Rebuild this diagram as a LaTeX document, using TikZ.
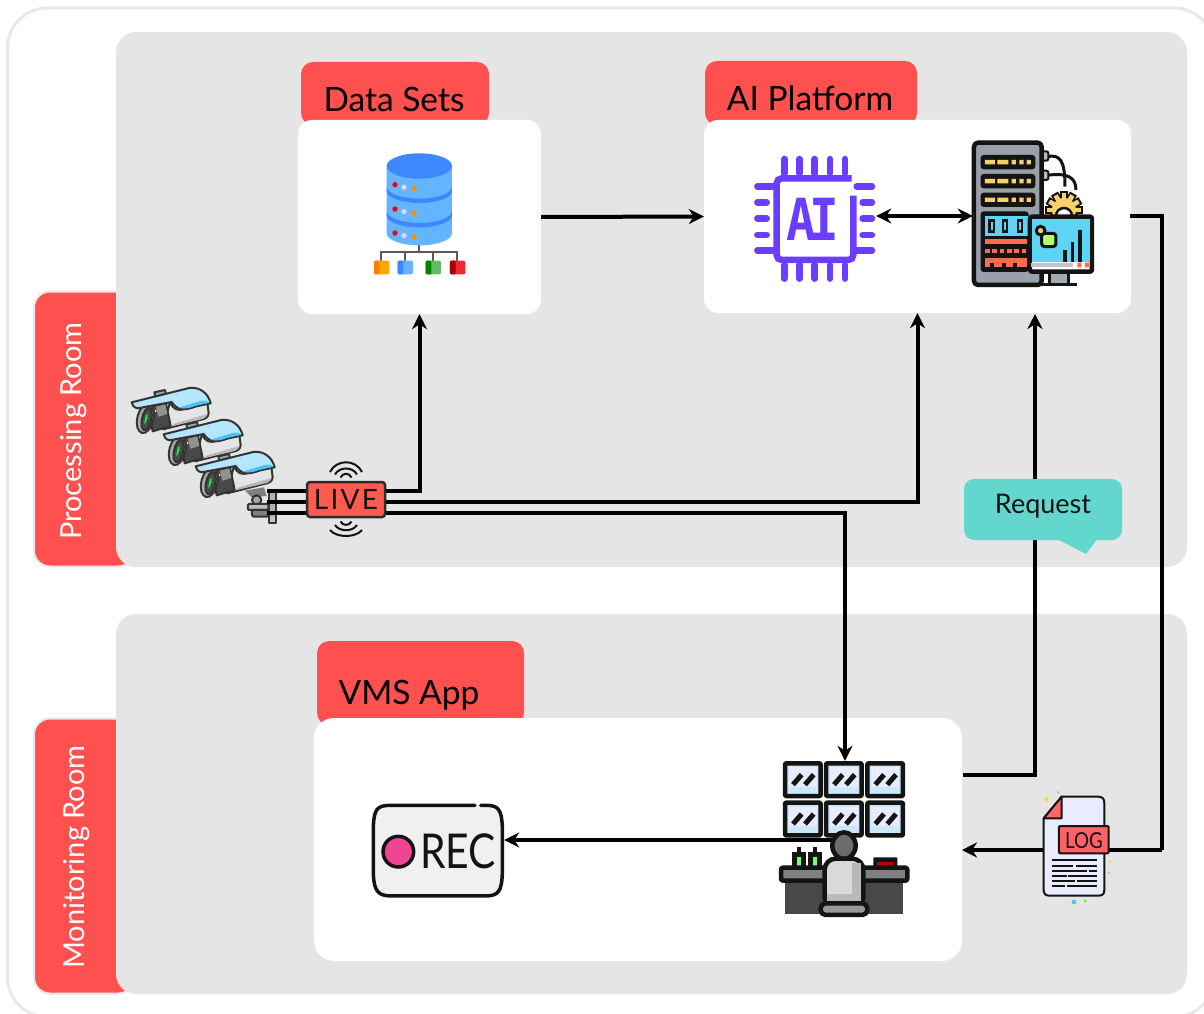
\documentclass[tikz,border=0pt]{standalone}
\usepackage{fontspec}
\setmainfont{Lato}
\newfontfamily\narrowfont[FakeStretch=0.85]{Lato}
\newfontfamily\aifont[FakeStretch=0.85]{DejaVu Sans Mono}
\usetikzlibrary{arrows.meta}
\definecolor{panelgray}{HTML}{E5E5E5}
\definecolor{tabred}{HTML}{FF5050}
\definecolor{framegray}{HTML}{E8E8E8}
\definecolor{teal}{HTML}{63D7CE}
\definecolor{aipurple}{HTML}{6A3DFF}
\definecolor{dbl}{HTML}{64B5FF}
\definecolor{dbd}{HTML}{3D87FF}
\definecolor{ink}{HTML}{141414}
\definecolor{steel}{HTML}{9AA0AA}
\definecolor{sky}{HTML}{5FD3F5}
\definecolor{glass}{HTML}{CBE8F9}
\definecolor{amber}{HTML}{F7CF6B}
\definecolor{ember}{HTML}{FB6B50}
\definecolor{livered}{HTML}{FF5A50}
\definecolor{camdark}{HTML}{4A4A4A}
\definecolor{hoodl}{HTML}{B5E6FF}
\definecolor{hoodd}{HTML}{4FC3F7}
\newcommand{\fs}[1]{\fontsize{#1}{#1}\selectfont}
\tikzset{
  conn/.style={line width=4pt,draw=black,-{Stealth[length=15pt,width=15pt]}},
  plainconn/.style={line width=4pt,draw=black},
  twoway/.style={line width=4pt,draw=black,{Stealth[length=15pt,width=15pt]}-{Stealth[length=15pt,width=15pt]}},
  panel/.style={fill=panelgray,rounded corners=20pt,inner sep=0pt,draw=none},
  wbox/.style={fill=white,rounded corners=14pt,inner sep=0pt,draw=none},
  tabbox/.style={fill=tabred,rounded corners=12pt,inner sep=0pt,draw=none},
  sidetab/.style={fill=tabred,draw=framegray,line width=2pt,rounded corners=16pt,inner sep=0pt},
  tabtext/.style={text=black,inner sep=0pt,font=\fs{33.5}},
  sidetext/.style={text=white,inner sep=0pt,rotate=90,font=\fs{29}},
  anchorbox/.style={inner sep=0pt,draw=none,fill=none},
  pin/.style={draw=aipurple,line width=6.5pt,line cap=round},
  icon/.style={line width=2pt,draw=camdark!70!black,line join=round},
  heavy/.style={line width=4.5pt,draw=ink,line join=round},
}
\newcommand{\camera}[2]{%
\begin{scope}[shift={(#1,#2)},scale=0.3333]
  \draw[icon,fill=gray!70] (103,67) -- (135,60) -- (138,72) -- (106,80) -- cycle;
  \draw[icon,fill=gray!20!white] (150,95) .. controls (160,122) and (175,122) .. (195,117) -- (262,98) -- (266,130) .. controls (265,142) and (255,148) .. (240,150) -- (130,178) -- cycle;
  \fill[gray!55] (165,160) -- (262,132) .. controls (260,142) and (252,147) .. (240,149) -- (150,170) -- cycle;
  \draw[icon,fill=camdark] (84,113) -- (138,100) -- (152,168) -- (98,184) -- cycle;
  \fill[camdark!60!white] (108,110) -- (136,103) -- (142,132) -- (115,140) -- cycle;
  \fill[white] (107,123) circle (3);
  \draw[icon,fill=gray!65,rotate around={-13:(76,146)}] (76,146) ellipse [x radius=24,y radius=44];
  \draw[icon,fill=camdark,rotate around={-13:(76,146)}] (80,146) ellipse [x radius=14,y radius=34];
  \fill[green!70!cyan,rotate around={-13:(76,146)}] (78,146) ellipse [x radius=3,y radius=16];
  \draw[icon,fill=hoodl] (35,97) -- (208,54) .. controls (240,50) and (265,70) .. (272,100) -- (225,110) .. controls (195,122) and (172,122) .. (155,96) -- (52,115) .. controls (42,112) and (35,105) .. (35,97) -- cycle;
  \fill[hoodd] (175,113) -- (245,92) .. controls (255,90) and (262,92) .. (268,98) -- (225,108) .. controls (205,116) and (190,118) .. (175,113) -- cycle;
\end{scope}}
\begin{document}
\begin{tikzpicture}[x=1pt,y=-1pt]
\useasboundingbox (0,0) rectangle (1204,1014);
\fill[white] (0,0) rectangle (1204,1014);
\draw[framegray,line width=3pt,rounded corners=40pt] (7.5,8) rectangle (1214,1017);
% side tabs
\node[sidetab,minimum width=100pt,minimum height=275pt] (proctab) at (84,429) {};
\node[sidetab,minimum width=100pt,minimum height=275pt] (montab) at (84,856) {};
% panels
\node[panel,minimum width=1071pt,minimum height=535pt] (procroom) at (651.5,299.5) {};
\node[panel,minimum width=1071pt,minimum height=380pt] (monroom) at (651.5,804) {};
\node[sidetext] at (74,431) {Processing Room};
\node[sidetext] at (77,857) {Monitoring Room};
% header tabs
\node[tabbox,minimum width=188pt,minimum height=63pt] (dstab) at (395,93.5) {};
\node[tabbox,minimum width=212pt,minimum height=64pt] (aitab) at (811,93) {};
\node[tabbox,minimum width=207pt,minimum height=84pt] (vmstab) at (420.5,683) {};
\node[tabtext] at (394,99) {Data Sets};
\node[tabtext] at (810,98) {AI Platform};
\node[tabtext] at (409,695) {VMS App};
% white boxes
\node[wbox,minimum width=243pt,minimum height=194pt] (datasets) at (419.5,217) {};
\node[wbox,minimum width=427pt,minimum height=193pt] (aibox) at (917.5,216.5) {};
\node[wbox,rounded corners=20pt,minimum width=648pt,minimum height=243pt] (vms) at (638,839.5) {};
% anchor nodes
\node[anchorbox,minimum width=122pt,minimum height=124pt] (chip) at (815,219) {};
\node[anchorbox,minimum width=120pt,minimum height=144pt] (server) at (1033,214) {};
\node[anchorbox,minimum width=126pt,minimum height=154pt] (monitor) at (845,838) {};
\node[anchorbox,minimum width=132pt,minimum height=92pt] (rec) at (438,851) {};
\node[anchorbox,minimum width=62pt,minimum height=100pt] (logdoc) at (1074,846) {};
\coordinate (c1) at (267,491);
\coordinate (c2) at (267,502);
\coordinate (c3) at (267,513);
\coordinate (vmsout) at (963,775);
\coordinate (aiin) at (1035,314);
\coordinate (aiout) at (1130,216);
\coordinate (busright) at (1162,216);
\coordinate (busdown) at (1162,850);
\coordinate (vmsin) at (962,850);
\coordinate (desk) at (845,840);
% database icon
\begin{scope}[shift={(360,140)},scale=0.3333]
  \draw[draw=ink!70!white,line width=2pt] (178,315) -- (178,335) (64,362) -- (64,335) -- (292,335) -- (292,362) (135,335) -- (135,362) (220,335) -- (220,362);
  \fill[dbl] (80,78) -- (80,280) arc [start angle=180,end angle=0,x radius=98,y radius=36] -- (276,78) -- cycle;
  \fill[dbd] (80,140) arc [start angle=180,end angle=0,x radius=98,y radius=36] -- (276,153) arc [start angle=0,end angle=180,x radius=98,y radius=36] -- cycle;
  \fill[dbd] (80,213) arc [start angle=180,end angle=0,x radius=98,y radius=36] -- (276,226) arc [start angle=0,end angle=180,x radius=98,y radius=36] -- cycle;
  \fill[dbd] (178,78) ellipse [x radius=98,y radius=38];
  \foreach \yy in {134,207,279}{
    \fill[red!75!purple] (105,\yy) circle (8);
    \fill[blue!15!white] (132,\yy+8) circle (8);
    \fill[orange!90!yellow] (162,\yy+12) circle (8);
  }
  \fill[orange!70!yellow,rounded corners=2pt] (42,362) rectangle (88,403);
  \fill[orange,rounded corners=1pt] (42,362) rectangle (58,403);
  \fill[dbl,rounded corners=2pt] (113,362) rectangle (159,403);
  \fill[dbd,rounded corners=1pt] (113,362) rectangle (130,403);
  \fill[green!55!black!60!white,rounded corners=2pt] (197,362) rectangle (243,403);
  \fill[green!50!black,rounded corners=1pt] (197,362) rectangle (214,403);
  \fill[red!80!purple!85!white,rounded corners=2pt] (270,362) rectangle (316,403);
  \fill[red!65!black,rounded corners=1pt] (270,362) rectangle (287,403);
\end{scope}
% AI chip
\begin{scope}[shift={(740,130)},scale=0.3333]
  \foreach \xx in {133,178,224,270,315}{
    \draw[pin] (\xx,87) -- (\xx,130);
    \draw[pin] (\xx,405) -- (\xx,446);
  }
  \foreach \yy in {217,265,315}{
    \draw[pin] (52,\yy) -- (80,\yy);
    \draw[pin] (368,\yy) -- (396,\yy);
  }
  \draw[pin] (52,170) -- (100,170);
  \draw[pin] (52,362) -- (100,362);
  \draw[pin] (350,170) -- (396,170);
  \draw[pin] (350,362) -- (396,362);
  \draw[draw=aipurple,line width=6.5pt,rounded corners=5pt] (340,197) -- (340,390) -- (110,390) -- (110,145) -- (335,145);
  \node[text=aipurple,inner sep=0pt,font=\aifont\fs{58}\bfseries] at (218,268) {A\kern-7pt I};
\end{scope}
% server icon
\begin{scope}[shift={(740,130)},scale=0.3333]
  \draw[ink,line width=3pt] (920,80) .. controls (960,72) and (975,90) .. (975,170);
  \draw[ink,line width=3pt] (920,136) .. controls (980,128) and (1008,140) .. (1008,180);
  \draw[ink,line width=2pt,fill=steel!70!white,rounded corners=2pt] (905,64) rectangle (925,92) (905,122) rectangle (925,150);
  \draw[heavy,fill=steel,rounded corners=4pt] (702,38) rectangle (905,465);
  \foreach \yy in {75,132,188}{
    \fill[ink,rounded corners=3pt] (722,\yy) rectangle (886,\yy+43);
    \fill[amber] (735,\yy+15) rectangle (765,\yy+28) (772,\yy+15) rectangle (805,\yy+28) (815,\yy+15) rectangle (828,\yy+28) (838,\yy+15) rectangle (851,\yy+28) (860,\yy+15) rectangle (873,\yy+28);
  }
  \fill[ink,rounded corners=3pt] (722,244) rectangle (866,426);
  \fill[sky] (735,258) rectangle (866,318);
  \foreach \xx in {745,785,830}{\fill[ink] (\xx,268) rectangle (\xx+20,308); \fill[sky] (\xx+7,276) rectangle (\xx+13,300);}
  \fill[ember] (735,328) rectangle (862,342);
  \foreach \xx in {735,757,779,801,823,845}{\fill[ember] (\xx,356) rectangle (\xx+14,370);}
  \fill[ember] (735,385) rectangle (862,412);
  \foreach \xx in {750,785,820}{\fill[ink] (\xx,398) rectangle (\xx+12,412);}
  % gear
  \foreach \aa in {0,30,...,180}{\draw[ink,line width=2pt,fill=amber,rotate around={\aa:(972,240)}] (1005,231) rectangle (1026,249);}
  \draw[ink,line width=2.5pt,fill=amber] (972,240) circle (40);
  \foreach \aa in {0,30,...,180}{\fill[amber,rotate around={\aa:(972,240)}] (1000,233) rectangle (1022,247);}
  \draw[ink,line width=2.5pt,fill=white] (972,258) circle (24);
  % monitor
  \fill[steel!90!white] (930,425) rectangle (985,460);
  \draw[ink,line width=3pt] (930,425) -- (930,462) (985,425) -- (985,462);
  \draw[ink,line width=3.5pt] (897,463) -- (1012,463);
  \draw[heavy,fill=white,rounded corners=2pt] (870,260) rectangle (1056,425);
  \fill[sky] (877,267) rectangle (1049,395);
  \fill[steel!60!white] (874,398) rectangle (1000,412);
  \fill[ember] (1012,398) rectangle (1024,412) (1035,398) rectangle (1047,412);
  \draw[ink,line width=3pt,fill=green!50!yellow!60!white,rounded corners=3pt] (905,310) rectangle (948,350);
  \draw[ink,line width=3pt,fill=amber] (902,302) circle (13);
  \foreach \xx/\yy in {970/360,992/335,1015/300}{\fill[ink] (\xx,\yy) rectangle (\xx+10,397);}
\end{scope}
% connectors behind camera/LIVE
\draw[conn] (c1) -| (datasets.south);
\draw[conn] (c2) -| (aibox.south);
\draw[conn] (c3) -| (monitor.north);
\draw[conn] (datasets.east) -- (aibox.west);
\draw[twoway] (chip.east |- 0,216) -- (server.west |- 0,216);
\draw[conn] (vmsout) -| (aiin);
\draw[plainconn] (aiout) -- (busright) -- (busdown);
\draw[conn] (busdown) -- (vmsin);
% cameras
\camera{120}{370}
\camera{152}{402}
\camera{184}{434}
% mount
\begin{scope}[shift={(120,370)},scale=0.3333]
  \fill[gray] (375,362) -- (432,352) -- (440,378) -- (395,382) -- cycle;
  \draw[icon,fill=gray!70] (410,390) circle (14);
  \draw[icon,fill=steel!70!white,rounded corners=1pt] (384,402) rectangle (445,420);
  \draw[icon,fill=gray,rounded corners=2pt] (396,420) rectangle (445,440);
  \draw[icon,fill=gray!60] (446,366) rectangle (468,458);
  \fill[steel!60!white] (449,440) rectangle (465,455);
\end{scope}
\draw[plainconn] (c1) -- +(40,0) (c2) -- +(40,0) (c3) -- +(40,0);
% LIVE
\node[draw=ink!90!white,line width=2.5pt,fill=livered,rounded corners=3pt,minimum width=78pt,minimum height=35pt,inner sep=0pt,font=\fs{28}\addfontfeature{LetterSpace=8},text=ink] (live) at (346,499.5) {LIVE};
\foreach \hw/\yend/\yctl in {16/472/459,11/474.5/466.5,5.5/477.5/472.5}{
  \draw[ink,line width=2pt] (346-\hw,\yend) .. controls (346-\hw*0.6,\yctl) and (346+\hw*0.6,\yctl) .. (346+\hw,\yend);
}
\foreach \hw/\yend/\yctl in {16/530/538,11/525/532,5.5/521.5/526}{
  \draw[ink,line width=2pt] (346-\hw,\yend) .. controls (346-\hw*0.6,\yctl) and (346+\hw*0.6,\yctl) .. (346+\hw,\yend);
}
% Request callout
\fill[teal,rounded corners=10pt] (964,479) rectangle (1122,540);
\fill[teal] (1055,538) -- (1086,554) -- (1098,538) -- cycle;
\node[text=ink,inner sep=0pt,font=\fs{27}] (request) at (1043,506) {Request};
% monitor wall
\begin{scope}[shift={(770,750)},scale=0.3333]
  \foreach \xx in {45,168,292}{\foreach \yy in {40,158}{
    \draw[heavy,fill=glass,rounded corners=1pt] (\xx,\yy) rectangle (\xx+107,\yy+98);
    \fill[blue!8!white] (\xx+12,\yy+12) rectangle (\xx+95,\yy+70);
    \draw[ink,line width=5pt] (\xx+24,\yy+64) -- (\xx+50,\yy+34) (\xx+60,\yy+64) -- (\xx+86,\yy+34);
  }}
\end{scope}
\draw[conn] (desk) -- (rec.east |- desk);
\begin{scope}[shift={(770,750)},scale=0.3333]
  \foreach \xx in {70,118}{
    \draw[ink,line width=3.5pt,fill=ink] (\xx,310) rectangle (\xx+32,352);
    \fill[green!55!white] (\xx+10,322) rectangle (\xx+22,350);
    \fill[ink] (\xx+10,292) rectangle (\xx+22,310);
  }
  \fill[ink,rounded corners=1pt] (310,322) rectangle (382,355);
  \fill[red!75!black] (322,336) rectangle (372,352);
  \fill[ink!78!white] (45,390) rectangle (400,492);
  \draw[heavy,fill=gray,rounded corners=2pt] (33,353) rectangle (412,392);
  \draw[heavy,fill=gray!85!black] (222,287) ellipse [x radius=35,y radius=40];
  \draw[heavy,fill=gray!30!white,rounded corners=11pt] (164,475) -- (164,326) -- (280,326) -- (280,475) -- cycle;
  \fill[gray!55!white] (246,340) rectangle (274,458);
  \fill[gray!55!white] (172,432) rectangle (270,458);
  \draw[heavy,fill=gray!80!white,rounded corners=5pt] (152,460) rectangle (292,495);
\end{scope}
% REC
\begin{scope}[shift={(360,790)},scale=0.3333]
  \fill[gray!12!white] (90,46) .. controls (50,46) and (42,60) .. (40,110) -- (40,250) .. controls (42,305) and (55,316) .. (90,318) -- (380,318) .. controls (415,316) and (425,305) .. (427,250) -- (427,110) .. controls (425,60) and (415,46) .. (380,46) -- cycle;
  \draw[ink,line width=3.5pt,line cap=round] (345,46) -- (90,46) .. controls (50,46) and (42,60) .. (40,110) -- (40,250) .. controls (42,305) and (55,316) .. (90,318) -- (380,318) .. controls (415,316) and (425,305) .. (427,250) -- (427,110) .. controls (425,60) and (415,46) .. (380,46) -- (362,46);
  \draw[ink,line width=3.5pt,fill=magenta!70!white!85!red] (115,185) circle (46);
\end{scope}
\node[inner sep=0pt,text=ink,font=\narrowfont\fs{48}] (rectext) at (458,851) {REC};
% LOG
\begin{scope}[shift={(770,750)},scale=0.3333]
  \draw[icon,draw=ink,fill=blue!8!white] (875,140) -- (985,140) .. controls (998,140) and (1003,148) .. (1003,158) -- (1003,420) .. controls (1003,432) and (998,437) .. (985,437) -- (838,437) .. controls (826,437) and (821,430) .. (821,420) -- (821,205) -- cycle;
  \draw[icon,draw=ink,fill=red!60!white] (821,205) -- (875,140) -- (875,205) -- cycle;
  \draw[icon,draw=ink,fill=red!60!white!95!purple,rounded corners=1pt] (867,228) rectangle (1016,310);
  \foreach \yy/\aa/\bb in {330/845/980,347/845/910,362/845/950,378/845/890,394/845/915,409/845/885}{
    \draw[ink,line width=2pt] (\aa,\yy) -- (\bb,\yy);
  }
  \foreach \yy/\aa/\bb in {347/918/980,362/958/980,378/895/980,394/920/980,409/892/980}{
    \draw[ink,line width=2pt] (\aa,\yy) -- (\bb,\yy);
  }
  \fill[yellow!80!orange] (830,138) -- (833,146) -- (838,148) -- (833,151) -- (830,158) -- (827,151) -- (822,148) -- (827,146) -- cycle;
  \fill[pink!80!red] (865,127) circle (4);
  \fill[yellow!80!orange] (1020,335) circle (4);
  \fill[pink!80!red] (1017,368) circle (4);
  \fill[cyan!70!white] (912,456) circle (7);
  \fill[green!70!yellow] (946,453) circle (4);
\end{scope}
\node[inner sep=0pt,text=ink,font=\narrowfont\fs{22}] (logtext) at (1084,841) {LOG};
\end{tikzpicture}
\end{document}
